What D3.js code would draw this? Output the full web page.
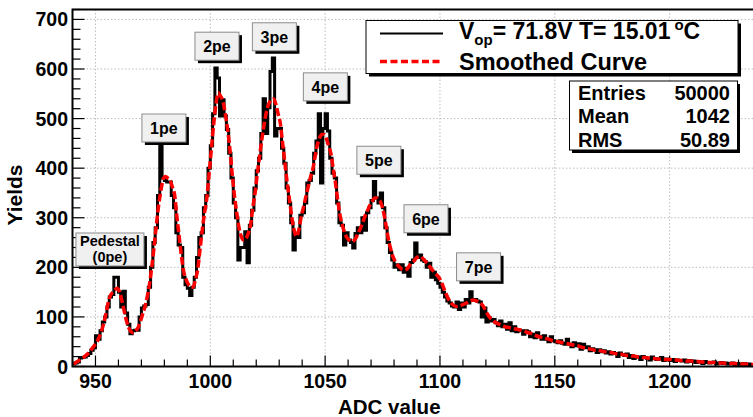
<!DOCTYPE html>
<html><head><meta charset="utf-8">
<script src="https://cdn.jsdelivr.net/npm/d3@7"></script>
<style>body{margin:0;background:#fff;}svg{display:block;font-family:"Liberation Sans",Arial,sans-serif;font-weight:bold;}</style>
</head><body>
<script>
// ---- data ----
const binStart = 940;           // first bin low edge (ADC), bin width 1
const counts = [
5,7,9,17,18,19,22,26,33,38,
62,55,72,90,100,120,140,145,180,180,
150,120,152,108,85,66,72,73,73,100,
118,122,125,160,200,250,280,345,445,380,
375,372,372,345,320,270,245,240,180,165,
158,143,160,180,220,260,270,320,345,400,
445,510,602,582,505,538,505,478,430,380,
330,300,215,240,240,272,209,285,315,360,
395,420,470,540,470,522,595,622,465,480,
480,440,410,360,330,290,235,265,260,305,
310,330,370,375,390,430,455,510,370,480,
510,475,420,390,380,330,290,285,245,270,
255,250,239,268,280,270,300,275,310,320,
335,373,340,330,350,320,280,250,230,215,
200,205,195,205,190,198,182,210,215,249,
220,225,215,212,200,208,180,190,175,168,
160,150,140,132,128,122,120,130,115,128,
120,135,128,151,133,135,132,130,100,118,
90,98,92,95,88,82,92,80,85,75,
88,72,80,70,73,72,65,72,70,60,
65,58,68,60,55,62,55,50,60,52,
50,48,52,47,45,55,45,40,48,42,
46,35,45,38,40,32,36,34,28,34,
30,32,27,30,25,28,26,20,27,24,
22,25,18,22,16,20,19,14,20,18,
16,13,19,16,14,15,18,12,15,13,
12,14,10,13,12,11,13,9,12,10,
11,8,10,9,6,10,8,7,8,9,
5,7,8,6,7,5,6,7,4,6,
5,4,6,3,5,4,3,4,5,3
];
const smooth = [
5,8,11,14,17,21,25,30,36,42,
48,58,70,85,105,128,143,150,155,158,
150,133,112,92,78,70,68,72,78,90,
105,120,140,165,200,240,285,325,355,378,
383,380,375,362,345,300,260,220,190,175,
165,160,160,175,195,235,275,310,340,390,
440,490,530,552,545,535,510,480,440,390,
345,310,280,262,255,258,268,285,320,350,
390,425,460,490,515,530,538,540,530,510,
490,450,410,370,336,300,275,262,275,300,
320,340,360,380,395,420,445,460,468,468,
460,445,430,400,370,335,305,285,270,260,
255,252,254,260,270,280,292,305,315,325,
333,340,340,336,328,310,285,258,238,222,
212,205,200,196,195,196,202,208,212,218,
221,222,218,213,208,202,196,190,185,180,
172,160,148,138,130,125,122,121,122,124,
126,128,131,133,134,133,131,128,124,116,
107,100,95,91,88,86,84,82,80,79,
78,77,76,75,74,73,72,70,68,67,
65,63,61,60,58,57,56,55,53,52,
51,50,49,48,47,46,45,44,43,42,
41,39,38,37,36,35,34,33,33,32,
31,30,29,28,28,27,26,25,25,24,
23,22,22,21,21,20,19,19,18,18,
17,17,16,16,15,15,15,14,14,14,
14,13,13,13,12,12,12,11,11,11,
10,10,10,9,9,9,8,8,8,8,
7,7,7,7,6,6,6,6,6,5,
5,5,5,5,5,4,4,4,4,4
];
const xTicks = [950,1000,1050,1100,1150,1200];
const yTicks = [0,100,200,300,400,500,600,700];
const peakLabels = ["Pedestal|(0pe)","1pe","2pe","3pe","4pe","5pe","6pe","7pe"];
const peakLabelX = [956.3,979.8,1002.9,1027.9,1050.1,1073.4,1093.9,1116.8];
const peakLabelY = [236,481,646,665,564,416,298,201];
const legendLabels = ["V_op= 71.8V T= 15.01 °C","Smoothed Curve"];
const statNames = ["Entries","Mean","RMS"];
const statValues = ["50000","1042","50.89"];

// ---- chart ----
const W=753,H=417;
const svg=d3.select("body").append("svg").attr("width",W).attr("height",H);
const x=d3.scaleLinear().domain([940,1240]).range([72.5,761.5]);
const y=d3.scaleLinear().domain([0,720]).range([366.5,9.5]);
const L=72.5,R=761.5,T=9.5,B=366.5;

svg.append("defs").append("clipPath").attr("id","clip")
  .append("rect").attr("x",L).attr("y",T).attr("width",R-L).attr("height",B-T);

// grid
const grid=svg.append("g").attr("stroke","#bdbdbd").attr("stroke-width",1).attr("stroke-dasharray","1.5,2");
xTicks.forEach(v=>grid.append("line").attr("x1",x(v)).attr("x2",x(v)).attr("y1",T).attr("y2",B));
yTicks.filter(v=>v>0).forEach(v=>grid.append("line").attr("x1",L).attr("x2",R).attr("y1",y(v)).attr("y2",y(v)));

// ticks (inward)
const tk=svg.append("g").attr("stroke","#000").attr("stroke-width",1.2);
d3.range(940,1241,10).forEach(v=>{
  const len = (v%50===0)?11:7;
  tk.append("line").attr("x1",x(v)).attr("x2",x(v)).attr("y1",B).attr("y2",B-len);
});
d3.range(0,721,20).forEach(v=>{
  const len = (v%100===0)?12:8;
  tk.append("line").attr("x1",L).attr("x2",L+len).attr("y1",y(v)).attr("y2",y(v));
});

// data
const plot=svg.append("g").attr("clip-path","url(#clip)");
const histPts = counts.map((c,i)=>[binStart+i,c]);
histPts.push([binStart+counts.length,counts[counts.length-1]]);
const hline=d3.line().x(d=>x(d[0])).y(d=>y(d[1])).curve(d3.curveStepAfter);
plot.append("path").attr("d",hline(histPts)).attr("fill","none").attr("stroke","#000").attr("stroke-width",3);
const sline=d3.line().x((d,i)=>x(binStart+i+0.5)).y(d=>y(d)).curve(d3.curveMonotoneX);
plot.append("path").attr("d",sline(smooth)).attr("fill","none").attr("stroke","#ff0000").attr("stroke-width",3.5).attr("stroke-dasharray","8,3");

// frame
svg.append("rect").attr("x",L).attr("y",T).attr("width",R-L).attr("height",B-T)
  .attr("fill","none").attr("stroke","#000").attr("stroke-width",2);

// tick labels
svg.append("g").selectAll("text").data(yTicks).join("text")
  .attr("x",68).attr("y",d=>y(d)+7).attr("text-anchor","end").attr("font-size",19.5).text(d=>d);
svg.append("g").selectAll("text").data(xTicks).join("text")
  .attr("x",d=>x(d)).attr("y",387.5).attr("text-anchor","middle").attr("font-size",19.5).text(d=>d);

// axis titles
svg.append("text").attr("x",338).attr("y",414).attr("font-size",20.5).text("ADC value");
svg.append("text").attr("transform","translate(21.5,195) rotate(-90)").attr("text-anchor","middle")
  .attr("font-size",21).text("Yields");

// peak label boxes
peakLabels.forEach((lab,i)=>{
  const lines=lab.split("|");
  const bw = lines.length>1?68:44, bh = lines.length>1?33:28;
  const cx=x(peakLabelX[i]), cy=y(peakLabelY[i]);
  const g=svg.append("g");
  g.append("rect").attr("x",cx-bw/2+3).attr("y",cy-bh/2+3).attr("width",bw).attr("height",bh).attr("fill","#000");
  g.append("rect").attr("x",cx-bw/2).attr("y",cy-bh/2).attr("width",bw).attr("height",bh)
    .attr("fill","#f0f0f0").attr("stroke","#8c8c8c").attr("stroke-width",1);
  if(lines.length===1){
    g.append("text").attr("x",cx).attr("y",cy+6).attr("text-anchor","middle").attr("font-size",16).text(lines[0]);
  } else {
    g.append("text").attr("x",cx).attr("y",cy-3.5).attr("text-anchor","middle").attr("font-size",14.5).text(lines[0]);
    g.append("text").attr("x",cx).attr("y",cy+12.5).attr("text-anchor","middle").attr("font-size",14.5).text(lines[1]);
  }
});

// legend
const lg=svg.append("g");
lg.append("rect").attr("x",369).attr("y",23.5).attr("width",372).attr("height",53).attr("fill","#000");
lg.append("rect").attr("x",366).attr("y",20.5).attr("width",372).attr("height",53).attr("fill","#fff").attr("stroke","#000").attr("stroke-width",1);
lg.append("line").attr("x1",380).attr("x2",443).attr("y1",33.5).attr("y2",33.5).attr("stroke","#000").attr("stroke-width",2);
lg.append("line").attr("x1",380).attr("x2",443).attr("y1",61.5).attr("y2",61.5).attr("stroke","#ff0000").attr("stroke-width",3.5).attr("stroke-dasharray","7,3.5");
const t1=lg.append("text").attr("x",459).attr("y",38.5).attr("font-size",23);
const m=legendLabels[0].match(/^V_op(.*) °C$/);
t1.append("tspan").text("V");
t1.append("tspan").attr("font-size",15).attr("dy",6).text("op");
t1.append("tspan").attr("dy",-6).text(m[1]);
t1.append("tspan").attr("font-size",15).attr("dx",4).attr("dy",-9).text("o");
t1.append("tspan").attr("dy",9).text("C");
lg.append("text").attr("x",459).attr("y",70).attr("font-size",23.5).text(legendLabels[1]);

// stats box
const sb=svg.append("g");
sb.append("rect").attr("x",572).attr("y",84).attr("width",168).attr("height",69).attr("fill","#000");
sb.append("rect").attr("x",569.5).attr("y",81).attr("width",168).attr("height",69).attr("fill","#fff").attr("stroke","#000").attr("stroke-width",1);
statNames.forEach((n,i)=>{
  sb.append("text").attr("x",578).attr("y",100+i*23.3).attr("font-size",20).text(n);
  sb.append("text").attr("x",730).attr("y",100+i*23.3).attr("font-size",20).attr("text-anchor","end").text(statValues[i]);
});
</script>
</body></html>
